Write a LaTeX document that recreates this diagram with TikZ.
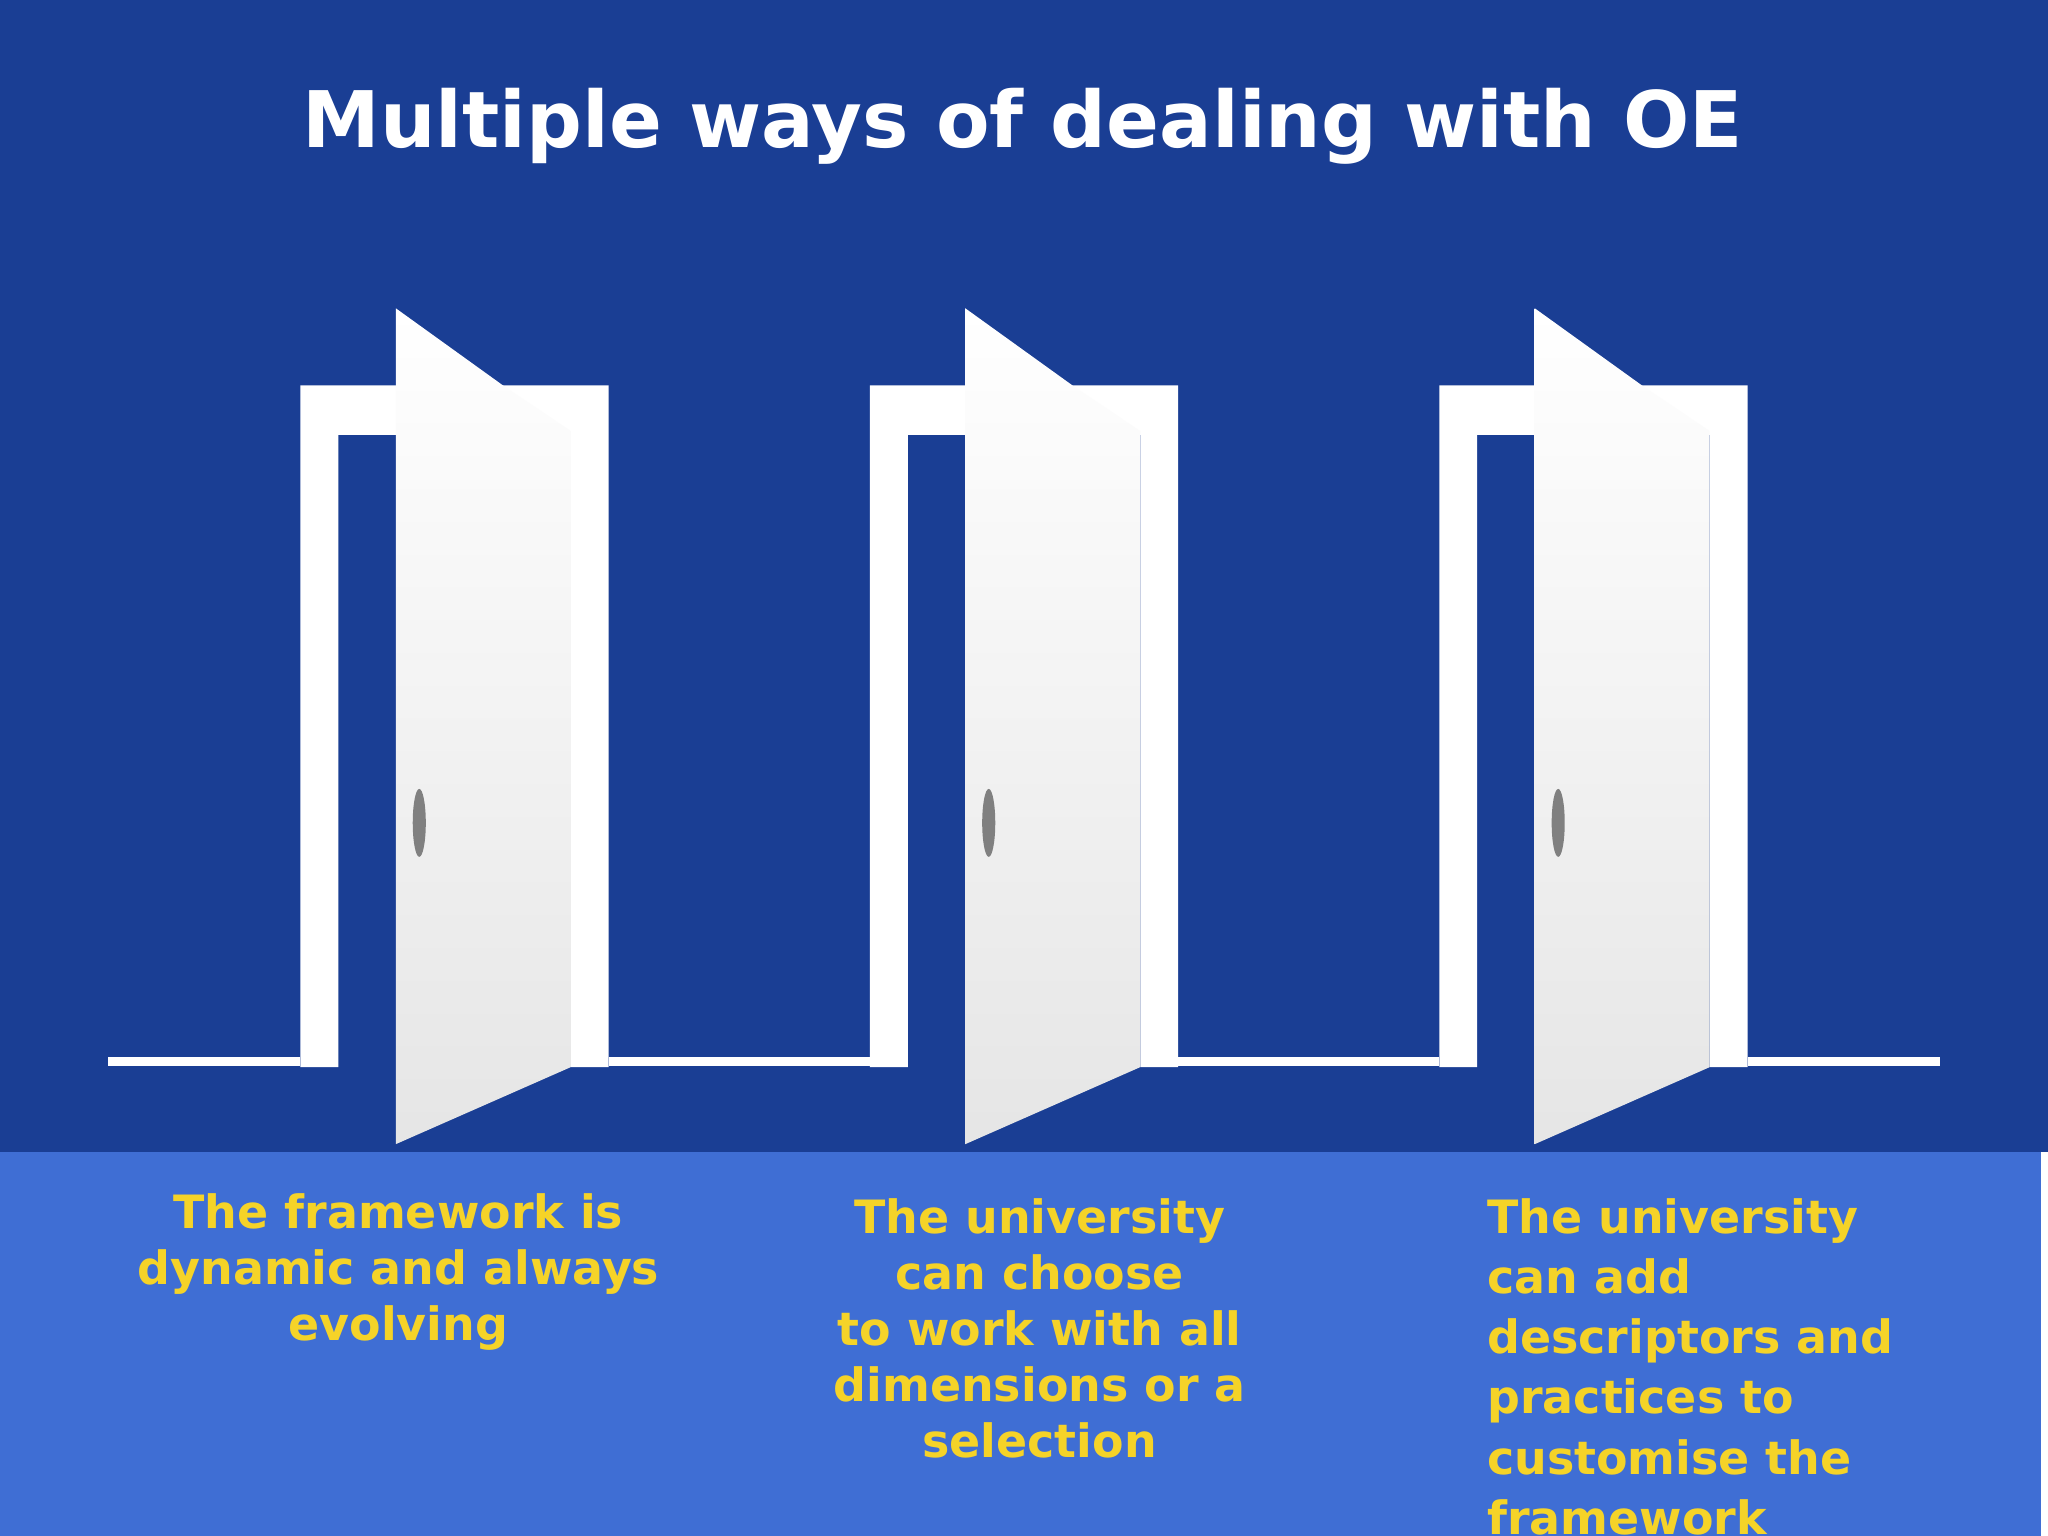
\documentclass[tikz,border=0pt]{standalone}
\usepackage{fontspec}
\setmainfont{DejaVu Sans}
\begin{document}
\begin{tikzpicture}[x=0.1mm,y=-0.1mm]
\definecolor{dark}{HTML}{1A3E94}
\definecolor{band}{HTML}{3F6ED4}
\definecolor{yel}{HTML}{F5D328}
\tikzset{txt/.style={text=yel,font=\bfseries\fontsize{10pt}{12.2pt}\selectfont,inner sep=0pt},
 floor/.style={white,line width=0.7mm}}
\useasboundingbox (0,0) rectangle (1568,1176);
\clip (0,0) rectangle (1568,1176);
\fill[dark] (0,0) rectangle (1568,882);
\fill[band] (0,882) rectangle (1563,1176);
\fill[white] (1563,882) rectangle (1568,1176);
\node[text=white,font=\bfseries\fontsize{17pt}{20pt}\selectfont,inner sep=0pt] (title) at (783,97) {Multiple ways of dealing with OE};
\coordinate (f0) at (83,813); \coordinate (f1) at (230,813);
\coordinate (f2) at (466,813); \coordinate (f3) at (666,813);
\coordinate (f4) at (902,813); \coordinate (f5) at (1102,813);
\coordinate (f6) at (1338,813); \coordinate (f7) at (1485,813);
\draw[floor] (f0)--(f1) (f2)--(f3) (f4)--(f5) (f6)--(f7);
\foreach \dx in {0,436,872}{
 \begin{scope}[xshift=\dx*0.1mm]
 \fill[white] (230,295) rectangle (259,817) (259,295) rectangle (437,333) (437,295) rectangle (466,817);
 \shade[top color=white,bottom color=black!10] (303,236) -- (385,295) -- (437,330) -- (437,817) -- (303,876) -- cycle;
 \fill[black!50] (321,630) ellipse [x radius=5, y radius=26];
 \end{scope}}
\node[txt,align=center] (t1) at (305,974) {The framework is\\dynamic and always\\evolving};
\node[txt,align=center] (t2) at (796,1017) {The university\\can choose\\to work with all\\dimensions or a\\selection};
\node[txt,align=left,anchor=north west,font=\bfseries\fontsize{10pt}{13.1pt}\selectfont] (t3) at (1138,917) {The university\\can add\\descriptors and\\practices to\\customise the\\framework};
\end{tikzpicture}
\end{document}
